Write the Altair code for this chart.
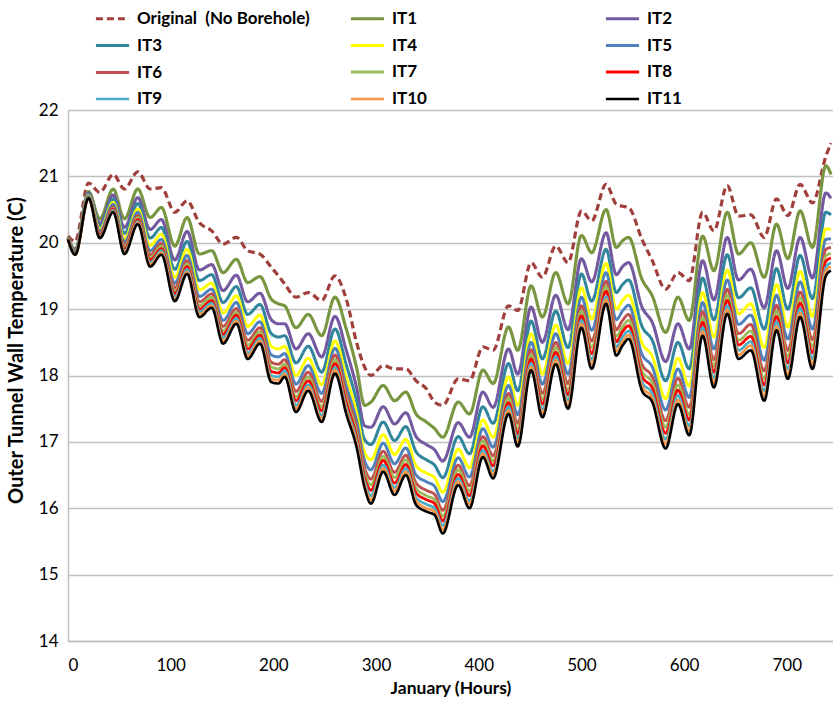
import altair as alt
import pandas as pd

# Hour marks along January (daily peaks and troughs)
HOURS = [0, 7, 20, 31, 44, 55, 68, 80, 91, 104,
         116, 128, 140, 151, 164, 175, 187, 198, 205, 211,
         222, 234, 247, 260, 271, 281, 289, 295, 307, 318,
         329, 339, 349, 357, 365, 380, 391, 404, 414, 429,
         438, 451, 462, 475, 487, 500, 510, 524, 534, 540,
         546, 559, 569, 582, 594, 605, 618, 629, 642, 653,
         665, 678, 690, 701, 713, 725, 738, 743]

ORIGINAL = [20.10, 20.02, 20.90, 20.76, 21.03, 20.81, 21.07, 20.81, 20.83, 20.46,
            20.63, 20.30, 20.18, 19.98, 20.08, 19.88, 19.83, 19.63, 19.50, 19.38,
            19.18, 19.25, 19.13, 19.50, 19.15, 18.50, 18.12, 18.00, 18.15, 18.10,
            18.10, 17.92, 17.80, 17.60, 17.55, 17.95, 17.92, 18.43, 18.38, 19.05,
            18.98, 19.70, 19.48, 19.95, 19.70, 20.48, 20.33, 20.88, 20.58, 20.55,
            20.53, 20.05, 19.73, 19.30, 19.55, 19.43, 20.46, 20.18, 20.86, 20.40,
            20.42, 20.08, 20.66, 20.41, 20.88, 20.60, 21.30, 21.50]

IT1 = [20.08, 19.90, 20.77, 20.36, 20.81, 20.36, 20.81, 20.38, 20.53, 19.95,
       20.38, 19.83, 19.88, 19.55, 19.75, 19.40, 19.49, 19.15, 19.08, 19.05,
       18.72, 18.92, 18.60, 19.18, 18.70, 18.12, 17.55, 17.60, 17.85, 17.62,
       17.75, 17.42, 17.30, 17.20, 17.07, 17.60, 17.42, 18.08, 17.88, 18.73,
       18.38, 19.35, 18.88, 19.55, 19.08, 20.11, 19.85, 20.50, 19.93, 20.03,
       20.08, 19.45, 19.20, 18.65, 19.18, 18.83, 20.10, 19.58, 20.46, 19.83,
       20.00, 19.48, 20.28, 19.76, 20.48, 19.93, 21.16, 21.03]

IT2 = [20.07, 19.88, 20.75, 20.29, 20.72, 20.23, 20.68, 20.20, 20.35, 19.74,
       20.17, 19.59, 19.67, 19.28, 19.51, 19.11, 19.24, 18.84, 18.78, 18.78,
       18.40, 18.63, 18.28, 18.89, 18.38, 17.82, 17.24, 17.22, 17.53, 17.27,
       17.44, 17.08, 16.96, 16.88, 16.71, 17.29, 17.07, 17.75, 17.52, 18.40,
       18.02, 19.03, 18.50, 19.21, 18.69, 19.76, 19.41, 20.15, 19.52, 19.64,
       19.70, 19.03, 18.80, 18.21, 18.78, 18.40, 19.73, 19.14, 20.08, 19.44,
       19.60, 19.02, 19.88, 19.31, 20.08, 19.47, 20.75, 20.67]

IT3 = [20.07, 19.87, 20.73, 20.24, 20.66, 20.14, 20.59, 20.07, 20.23, 19.60,
       20.02, 19.43, 19.52, 19.10, 19.34, 18.92, 19.07, 18.63, 18.58, 18.60,
       18.19, 18.44, 18.05, 18.70, 18.16, 17.62, 17.03, 16.96, 17.30, 17.02,
       17.23, 16.85, 16.73, 16.65, 16.46, 17.08, 16.82, 17.53, 17.28, 18.18,
       17.77, 18.82, 18.25, 18.97, 18.42, 19.53, 19.12, 19.90, 19.25, 19.37,
       19.44, 18.74, 18.53, 17.92, 18.50, 18.10, 19.47, 18.84, 19.82, 19.17,
       19.32, 18.70, 19.61, 19.00, 19.81, 19.16, 20.46, 20.42]

IT4 = [20.06, 19.85, 20.71, 20.20, 20.61, 20.06, 20.51, 19.96, 20.13, 19.48,
       19.90, 19.29, 19.39, 18.94, 19.20, 18.74, 18.91, 18.44, 18.40, 18.44,
       18.00, 18.26, 17.86, 18.52, 17.97, 17.44, 16.84, 16.73, 17.11, 16.81,
       17.04, 16.64, 16.53, 16.46, 16.24, 16.89, 16.61, 17.33, 17.07, 17.98,
       17.55, 18.63, 18.02, 18.76, 18.18, 19.32, 18.85, 19.69, 19.00, 19.13,
       19.21, 18.49, 18.29, 17.65, 18.26, 17.84, 19.25, 18.58, 19.59, 18.93,
       19.08, 18.42, 19.37, 18.73, 19.57, 18.89, 20.21, 20.20]

IT5 = [20.06, 19.85, 20.70, 20.17, 20.58, 20.01, 20.46, 19.88, 20.05, 19.39,
       19.81, 19.19, 19.30, 18.83, 19.10, 18.63, 18.81, 18.31, 18.28, 18.33,
       17.87, 18.15, 17.73, 18.41, 17.84, 17.32, 16.71, 16.58, 16.98, 16.67,
       16.91, 16.50, 16.40, 16.33, 16.10, 16.76, 16.47, 17.20, 16.92, 17.85,
       17.41, 18.50, 17.87, 18.63, 18.02, 19.18, 18.68, 19.55, 18.84, 18.97,
       19.06, 18.32, 18.13, 17.48, 18.10, 17.67, 19.10, 18.40, 19.44, 18.77,
       18.91, 18.23, 19.21, 18.55, 19.41, 18.70, 20.05, 20.06]

IT6 = [20.06, 19.84, 20.69, 20.14, 20.54, 19.96, 20.41, 19.82, 19.99, 19.32,
       19.73, 19.11, 19.23, 18.74, 19.01, 18.53, 18.72, 18.20, 18.17, 18.24,
       17.76, 18.05, 17.61, 18.31, 17.73, 17.21, 16.60, 16.44, 16.86, 16.54,
       16.80, 16.38, 16.27, 16.21, 15.97, 16.65, 16.34, 17.08, 16.79, 17.73,
       17.28, 18.39, 17.73, 18.50, 17.88, 19.05, 18.52, 19.42, 18.69, 18.83,
       18.92, 18.17, 17.98, 17.32, 17.96, 17.52, 18.96, 18.24, 19.30, 18.63,
       18.77, 18.07, 19.06, 18.38, 19.26, 18.54, 19.90, 19.93]

IT7 = [20.06, 19.83, 20.69, 20.12, 20.52, 19.93, 20.38, 19.77, 19.95, 19.27,
       19.68, 19.05, 19.18, 18.67, 18.95, 18.46, 18.66, 18.13, 18.10, 18.17,
       17.68, 17.98, 17.53, 18.24, 17.65, 17.14, 16.53, 16.35, 16.78, 16.46,
       16.73, 16.30, 16.19, 16.13, 15.88, 16.58, 16.26, 17.01, 16.71, 17.66,
       17.19, 18.31, 17.64, 18.42, 17.78, 18.97, 18.42, 19.34, 18.59, 18.73,
       18.83, 18.07, 17.89, 17.22, 17.86, 17.41, 18.87, 18.14, 19.21, 18.53,
       18.67, 17.95, 18.97, 18.28, 19.17, 18.43, 19.80, 19.84]

IT8 = [20.05, 19.83, 20.68, 20.11, 20.51, 19.90, 20.35, 19.74, 19.91, 19.23,
       19.64, 19.00, 19.13, 18.62, 18.91, 18.40, 18.61, 18.06, 18.04, 18.12,
       17.62, 17.92, 17.47, 18.18, 17.59, 17.08, 16.46, 16.27, 16.72, 16.38,
       16.66, 16.23, 16.13, 16.07, 15.81, 16.51, 16.19, 16.94, 16.64, 17.59,
       17.12, 18.25, 17.57, 18.35, 17.71, 18.90, 18.33, 19.27, 18.51, 18.66,
       18.75, 17.99, 17.81, 17.13, 17.78, 17.33, 18.80, 18.05, 19.13, 18.46,
       18.59, 17.86, 18.89, 18.19, 19.09, 18.34, 19.72, 19.77]

IT9 = [20.05, 19.83, 20.68, 20.09, 20.49, 19.87, 20.32, 19.70, 19.88, 19.19,
       19.60, 18.96, 19.09, 18.57, 18.86, 18.34, 18.56, 18.00, 17.98, 18.07,
       17.55, 17.86, 17.40, 18.12, 17.52, 17.02, 16.40, 16.19, 16.65, 16.31,
       16.60, 16.16, 16.06, 16.00, 15.74, 16.45, 16.11, 16.87, 16.56, 17.53,
       17.05, 18.18, 17.49, 18.28, 17.63, 18.83, 18.24, 19.19, 18.43, 18.58,
       18.67, 17.90, 17.73, 17.04, 17.70, 17.24, 18.72, 17.96, 19.05, 18.38,
       18.51, 17.77, 18.81, 18.10, 19.01, 18.25, 19.63, 19.70]

IT10 = [20.05, 19.82, 20.67, 20.08, 20.47, 19.85, 20.30, 19.67, 19.85, 19.15,
        19.56, 18.92, 19.05, 18.52, 18.82, 18.30, 18.52, 17.95, 17.93, 18.02,
        17.50, 17.82, 17.35, 18.08, 17.47, 16.97, 16.35, 16.13, 16.60, 16.26,
        16.55, 16.11, 16.00, 15.95, 15.68, 16.40, 16.06, 16.82, 16.51, 17.47,
        16.99, 18.13, 17.43, 18.23, 17.56, 18.78, 18.17, 19.14, 18.37, 18.51,
        18.61, 17.84, 17.66, 16.97, 17.63, 17.17, 18.66, 17.89, 18.99, 18.31,
        18.45, 17.69, 18.74, 18.02, 18.94, 18.17, 19.57, 19.64]

IT11 = [20.05, 19.82, 20.67, 20.07, 20.46, 19.83, 20.28, 19.64, 19.82, 19.12,
        19.53, 18.88, 19.02, 18.48, 18.78, 18.25, 18.48, 17.90, 17.88, 17.98,
        17.45, 17.77, 17.30, 18.03, 17.42, 16.92, 16.30, 16.07, 16.55, 16.20,
        16.50, 16.05, 15.95, 15.90, 15.62, 16.35, 16.00, 16.77, 16.45, 17.42,
        16.93, 18.08, 17.37, 18.17, 17.50, 18.72, 18.10, 19.08, 18.30, 18.45,
        18.55, 17.77, 17.60, 16.90, 17.57, 17.10, 18.60, 17.82, 18.93, 18.25,
        18.38, 17.62, 18.68, 17.95, 18.88, 18.10, 19.50, 19.58]

SERIES = ["Original\u00a0 (No Borehole)", "IT1", "IT2", "IT3", "IT4", "IT5",
          "IT6", "IT7", "IT8", "IT9", "IT10", "IT11"]
VALUES = [ORIGINAL, IT1, IT2, IT3, IT4, IT5, IT6, IT7, IT8, IT9, IT10, IT11]
COLORS = ["#A0403D", "#77963F", "#7459A0", "#31869E", "#FFFF00", "#4F81BD",
          "#C0504D", "#9BBB59", "#FF0000", "#4BACC6", "#F79646", "#000000"]
DASHES = [[7, 4]] + [[1, 0]] * 11
WIDTHS = [3.2] + [2.6] * 10 + [3.2]
Y_TICKS = [14, 15, 16, 17, 18, 19, 20, 21, 22]
X_TICKS = [0, 100, 200, 300, 400, 500, 600, 700]

rows = []
for order, (name, vals) in enumerate(zip(SERIES, VALUES)):
    for h, v in zip(HOURS, vals):
        rows.append({"hour": h, "temp": v, "series": name, "k": order})
df = pd.DataFrame(rows)

FONT = "Lato"

legend = alt.Legend(
    title=None, orient="none", legendX=26, legendY=-110, columns=3,
    direction="horizontal", gridAlign="all", columnPadding=34, rowPadding=-1,
    padding=0, symbolType="stroke", symbolSize=1100, symbolStrokeWidth=3,
    labelFont=FONT, labelFontSize=17, labelFontWeight="bold",
    labelColor="#000000", labelOffset=6, labelLimit=400,
)

chart = alt.Chart(df).mark_line(interpolate="monotone", strokeCap="butt").encode(
    x=alt.X("hour:Q",
            scale=alt.Scale(domain=[0, 745], nice=False, zero=False),
            axis=alt.Axis(values=X_TICKS, title="January (Hours)", grid=False,
                          ticks=False, domainColor="#BFBFBF", domainWidth=1.5,
                          labelFont=FONT, labelFontSize=17, labelColor="#000000",
                          labelPadding=16, titleFont=FONT, titleFontSize=17.5,
                          titleFontWeight="bold", titleColor="#000000",
                          titlePadding=6)),
    y=alt.Y("temp:Q",
            scale=alt.Scale(domain=[14, 22], nice=False, zero=False),
            axis=alt.Axis(values=Y_TICKS, title="Outer Tunnel Wall Temperature (C)",
                          grid=True, gridColor="#C0C0C0", gridWidth=1.3,
                          ticks=False, domainColor="#BFBFBF", domainWidth=1.5,
                          labelFont=FONT, labelFontSize=17, labelColor="#000000",
                          labelPadding=10, titleFont=FONT, titleFontSize=20,
                          titleFontWeight="bold", titleColor="#000000",
                          titleAngle=270, titleX=-52, titleY=240,
                          titleAlign="center", titleBaseline="middle")),
    color=alt.Color("series:N", scale=alt.Scale(domain=SERIES, range=COLORS),
                    legend=legend),
    strokeDash=alt.StrokeDash("series:N", scale=alt.Scale(domain=SERIES, range=DASHES),
                              legend=legend),
    strokeWidth=alt.StrokeWidth("series:N", scale=alt.Scale(domain=SERIES, range=WIDTHS),
                                legend=None),
    order=alt.Order("hour:Q"),
).properties(
    width=765, height=531,
    padding={"left": 68, "top": 110, "right": 0, "bottom": 61},
    autosize=alt.AutoSizeParams(type="none"),
).configure_view(stroke=None).configure(background="white")

chart.save("out.html", embed_options={"renderer": "svg", "actions": False})
